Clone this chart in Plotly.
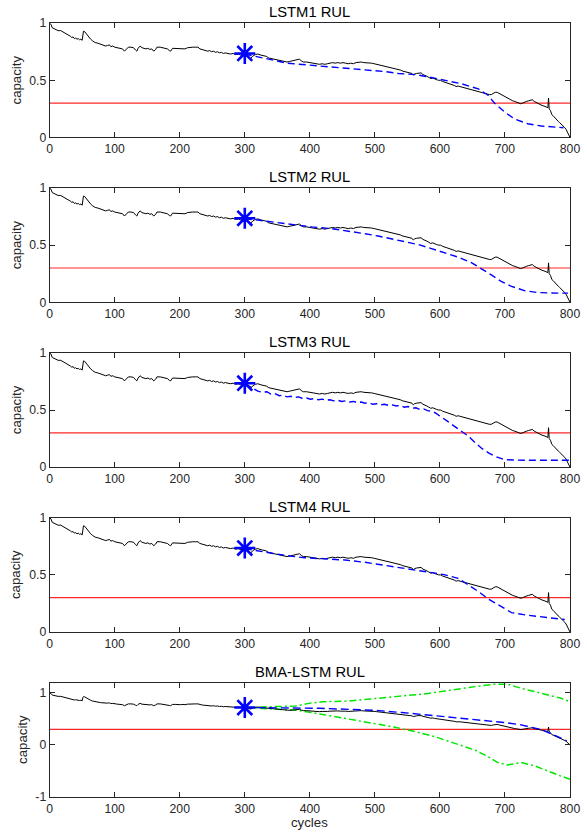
import plotly.graph_objects as go

# The photo of the page is scaled to the 587x833 picture (about 587/600 across, 833/849 down) and the
# html body keeps its default 8px margin, so reference pixel positions are converted to figure pixels.
OFF = 8
SX, SY = 587 / 600, 833 / 849
W, H = 592, 837


def fx(px):
    return px / SX - OFF


def fy(py):
    return py / SY - OFF


# ---------------- data ----------------
cycles = [0, 2, 4, 7, 10, 13, 17, 20, 23, 26, 29, 32, 34, 36, 38, 40, 42, 44, 46, 48, 50, 51, 52, 54, 57, 60,
          63, 66, 70, 74, 78, 82, 86, 89, 92, 94, 97, 100, 104, 108, 112, 115, 118, 121, 125, 129, 132, 134,
          136, 139, 142, 145, 148, 151, 154, 157, 160, 163, 165, 170, 174, 178, 181, 184, 186, 189, 193, 197,
          201, 205, 208, 212, 216, 220, 224, 228, 231, 234, 237, 240, 243, 246, 249, 252, 255, 258, 261, 264,
          267, 270, 274, 278, 282, 286, 290, 294, 298, 302, 306, 309, 312, 316, 320, 325, 329, 333, 337, 341,
          345, 349, 353, 357, 361, 365, 369, 373, 377, 381, 384, 387, 390, 395, 399, 403, 407, 411, 415, 419,
          423, 427, 431, 435, 439, 443, 447, 451, 455, 459, 463, 467, 471, 475, 479, 483, 487, 491, 495, 499,
          503, 507, 511, 515, 519, 523, 527, 531, 535, 539, 543, 547, 551, 554, 557, 559, 561, 564, 568, 571,
          574, 577, 580, 583, 586, 589, 592, 595, 598, 601, 604, 607, 610, 613, 616, 619, 622, 625, 628, 631,
          634, 637, 640, 643, 646, 649, 652, 655, 658, 661, 664, 667, 670, 673, 676, 679, 682, 685, 688, 691,
          694, 697, 700, 703, 706, 709, 712, 715, 718, 721, 724, 727, 730, 733, 736, 739, 742, 745, 748, 751,
          754, 757, 760, 763, 766, 767, 768, 770, 772, 774, 776, 778, 780, 782, 784, 786, 788, 790, 792, 794,
          796, 798, 800]
capacity = [1.00, 0.99, 0.96, 0.95, 0.945, 0.935, 0.935, 0.925, 0.92, 0.905, 0.895, 0.885, 0.875, 0.88, 0.865,
            0.87, 0.86, 0.865, 0.855, 0.86, 0.85, 0.91, 0.93, 0.925, 0.90, 0.88, 0.86, 0.845, 0.83, 0.825, 0.815,
            0.81, 0.80, 0.805, 0.81, 0.795, 0.80, 0.79, 0.785, 0.78, 0.775, 0.755, 0.775, 0.79, 0.79, 0.785,
            0.765, 0.755, 0.78, 0.80, 0.785, 0.78, 0.775, 0.78, 0.77, 0.775, 0.755, 0.77, 0.79, 0.79, 0.785,
            0.78, 0.775, 0.76, 0.755, 0.78, 0.78, 0.775, 0.775, 0.78, 0.775, 0.785, 0.79, 0.79, 0.79, 0.79,
            0.775, 0.77, 0.765, 0.76, 0.755, 0.76, 0.75, 0.755, 0.745, 0.75, 0.74, 0.745, 0.735, 0.74, 0.735,
            0.73, 0.735, 0.725, 0.73, 0.72, 0.725, 0.715, 0.705, 0.69, 0.71, 0.725, 0.73, 0.72, 0.715, 0.71,
            0.695, 0.69, 0.69, 0.68, 0.68, 0.67, 0.665, 0.66, 0.665, 0.67, 0.675, 0.685, 0.685, 0.67, 0.66,
            0.66, 0.655, 0.65, 0.65, 0.645, 0.64, 0.645, 0.64, 0.645, 0.65, 0.655, 0.65, 0.655, 0.65, 0.655,
            0.65, 0.645, 0.65, 0.645, 0.655, 0.66, 0.66, 0.655, 0.655, 0.65, 0.65, 0.645, 0.64, 0.635, 0.63,
            0.625, 0.62, 0.615, 0.61, 0.60, 0.595, 0.59, 0.58, 0.575, 0.57, 0.565, 0.56, 0.545, 0.555, 0.56,
            0.565, 0.565, 0.55, 0.545, 0.535, 0.525, 0.515, 0.52, 0.51, 0.505, 0.50, 0.50, 0.49, 0.485, 0.48,
            0.47, 0.465, 0.46, 0.455, 0.445, 0.45, 0.445, 0.44, 0.435, 0.43, 0.43, 0.425, 0.42, 0.415, 0.41,
            0.405, 0.40, 0.395, 0.39, 0.385, 0.38, 0.375, 0.375, 0.385, 0.395, 0.395, 0.385, 0.375, 0.365,
            0.36, 0.35, 0.34, 0.33, 0.32, 0.315, 0.31, 0.30, 0.295, 0.30, 0.31, 0.315, 0.32, 0.325, 0.33,
            0.315, 0.305, 0.295, 0.29, 0.28, 0.275, 0.265, 0.26, 0.345, 0.25, 0.235, 0.20, 0.19, 0.175, 0.16,
            0.155, 0.14, 0.13, 0.12, 0.11, 0.10, 0.085, 0.07, 0.05, 0.03, 0.00]

start_cycle = 300
start_capacity = [0.735, 0.735, 0.735, 0.735, 0.72]
threshold = 0.3

lstm1_x = [300, 330, 365, 395, 426, 457, 487, 518, 536, 562, 582, 608, 633, 659, 674, 684, 699, 715, 735, 756, 776, 790]
lstm1_y = [0.73, 0.69, 0.65, 0.635, 0.62, 0.605, 0.59, 0.575, 0.56, 0.55, 0.53, 0.50, 0.47, 0.425, 0.37, 0.30,
           0.225, 0.16, 0.12, 0.10, 0.09, 0.085]

lstm2_x = [300, 320, 346, 372, 403, 433, 464, 485, 505, 526, 546, 567, 587, 608, 628, 649, 664, 679, 695, 710, 731,
           751, 782, 797]
lstm2_y = [0.73, 0.72, 0.70, 0.68, 0.66, 0.645, 0.62, 0.60, 0.58, 0.555, 0.53, 0.505, 0.47, 0.43, 0.395, 0.345,
           0.295, 0.24, 0.18, 0.14, 0.10, 0.085, 0.08, 0.08]

lstm3_x = [300, 313, 320, 328, 334, 340, 346, 353, 359, 365, 371, 377, 383, 389, 395, 401, 407, 413, 419, 425,
           431, 437, 443, 449, 455, 461, 467, 473, 479, 485, 491, 497, 503, 509, 515, 521, 527, 533, 539, 545,
           551, 557, 563, 569, 575, 581, 587, 593, 600, 612, 623, 634, 644, 654, 664, 676, 687, 700, 730, 800]
lstm3_y = [0.73, 0.69, 0.665, 0.655, 0.66, 0.64, 0.645, 0.625, 0.63, 0.615, 0.62, 0.61, 0.615, 0.60, 0.605, 0.595,
           0.60, 0.59, 0.595, 0.585, 0.59, 0.58, 0.585, 0.575, 0.58, 0.57, 0.575, 0.565, 0.57, 0.56, 0.565, 0.55,
           0.555, 0.545, 0.55, 0.54, 0.545, 0.535, 0.54, 0.525, 0.53, 0.515, 0.52, 0.505, 0.51, 0.495, 0.49,
           0.475, 0.45, 0.40, 0.355, 0.31, 0.27, 0.215, 0.165, 0.12, 0.09, 0.065, 0.06, 0.06]

lstm4_x = [300, 331, 362, 392, 423, 454, 485, 515, 541, 567, 587, 608, 628, 644, 659, 674, 690, 710, 731, 756, 782, 792]
lstm4_y = [0.73, 0.70, 0.67, 0.65, 0.64, 0.63, 0.61, 0.585, 0.56, 0.54, 0.52, 0.50, 0.47, 0.41, 0.355, 0.29, 0.24,
           0.17, 0.15, 0.13, 0.115, 0.11]

bma_x = [300, 340, 378, 414, 460, 500, 541, 582, 620, 650, 672, 700, 723, 740, 755, 770, 785, 795]
bma_y = [0.72, 0.715, 0.71, 0.705, 0.685, 0.665, 0.625, 0.575, 0.54, 0.50, 0.465, 0.43, 0.39, 0.34, 0.30, 0.22,
         0.14, 0.08]

upper_x = [300, 340, 378, 398, 419, 460, 480, 505, 531, 557, 582, 608, 633, 659, 684, 704, 725, 745, 766, 786, 800]
upper_y = [0.72, 0.74, 0.75, 0.80, 0.83, 0.845, 0.865, 0.90, 0.93, 0.96, 0.99, 1.04, 1.09, 1.13, 1.17, 1.17, 1.09,
           1.025, 0.96, 0.90, 0.83]

lower_x = [300, 340, 378, 409, 439, 470, 500, 531, 562, 592, 623, 654, 674, 689, 704, 725, 745, 766, 786, 800]
lower_y = [0.72, 0.70, 0.67, 0.61, 0.545, 0.48, 0.415, 0.34, 0.255, 0.16, 0.03, -0.10, -0.225, -0.34, -0.385,
           -0.34, -0.40, -0.51, -0.60, -0.66]

titles = ["LSTM1 RUL", "LSTM2 RUL", "LSTM3 RUL", "LSTM4 RUL", "BMA-LSTM RUL"]
preds = [(lstm1_x, lstm1_y), (lstm2_x, lstm2_y), (lstm3_x, lstm3_y), (lstm4_x, lstm4_y), (bma_x, bma_y)]
x_ticks = [0, 100, 200, 300, 400, 500, 600, 700, 800]
y_ticks_top = [0, 0.5, 1]
y_ticks_bma = [-1, 0, 1]

# ---------------- layout geometry (reference picture pixels -> figure pixels) ----------------
ax_left, ax_right = fx(54.5), fx(575.0)
ref_tops = (24, 188.5, 353, 517.5, 682)
ax_tops = [fy(t) for t in ref_tops]
ax_bots = [fy(t + 114) for t in ref_tops]
ylab_x = [fx(21)] * 4 + [fx(28)]
cycles_y = min(fy(822), H - 8)
K = 1 / SY  # font scale

FONT = "Liberation Sans, Arial, Helvetica, sans-serif"
AXC = "#262626"
BLUE = "rgb(0,0,255)"
TICKF = dict(size=12 * K, color=AXC, family=FONT)

fig = go.Figure()
layout = dict(width=W, height=H, margin=dict(l=0, r=0, t=0, b=0),
              paper_bgcolor="white", plot_bgcolor="white", showlegend=False,
              font=dict(family=FONT, size=12, color=AXC))
annotations = []

for i in range(5):
    k = "" if i == 0 else str(i + 1)
    xa, ya = "x" + k, "y" + k
    top, bot = ax_tops[i], ax_bots[i]
    ydom = [1 - bot / H, 1 - top / H]
    is_bma = i == 4
    yt = y_ticks_bma if is_bma else y_ticks_top
    layout["xaxis" + k] = dict(domain=[ax_left / W, ax_right / W], range=[0, 800], anchor=ya,
                               tickmode="array", tickvals=x_ticks, ticks="inside", ticklen=5,
                               tickcolor=AXC, showline=True, linecolor=AXC, linewidth=1, mirror="ticks",
                               showgrid=False, zeroline=False, ticklabeloverflow="allow", tickfont=TICKF)
    layout["yaxis" + k] = dict(domain=ydom, range=[-1, 1.2] if is_bma else [0, 1], anchor=xa,
                               tickmode="array", tickvals=yt, ticktext=[str(v) for v in yt],
                               ticks="inside", ticklen=5, tickcolor=AXC, showline=True, linecolor=AXC,
                               linewidth=1, mirror="ticks", showgrid=False, zeroline=False, tickfont=TICKF)
    fig.add_trace(go.Scatter(x=[0, 800], y=[threshold, threshold], mode="lines",
                             line=dict(color="rgb(255,40,40)", width=1.2), xaxis=xa, yaxis=ya))
    if is_bma:
        for bx, by in ((upper_x, upper_y), (lower_x, lower_y)):
            fig.add_trace(go.Scatter(x=bx, y=by, mode="lines",
                                     line=dict(color="rgb(0,230,0)", width=1.5, dash="7px,3px,2px,3px"),
                                     xaxis=xa, yaxis=ya))
    fig.add_trace(go.Scatter(x=cycles, y=capacity, mode="lines",
                             line=dict(color="black", width=1), xaxis=xa, yaxis=ya))
    px, py = preds[i]
    fig.add_trace(go.Scatter(x=px, y=py, mode="lines",
                             line=dict(color=BLUE, width=1.4, dash="8px,4px" if is_bma else "7px,4px"),
                             xaxis=xa, yaxis=ya))
    fig.add_trace(go.Scatter(x=[start_cycle], y=[start_capacity[i]], mode="markers",
                             marker=dict(symbol="asterisk-open", size=17.5, color=BLUE,
                                         line=dict(color=BLUE, width=2.6)),
                             xaxis=xa, yaxis=ya))
    annotations.append(dict(text=titles[i], xref="paper", yref="paper",
                            x=(ax_left + ax_right) / 2 / W, y=1 - top / H, xanchor="center",
                            yanchor="bottom", yshift=1, showarrow=False,
                            font=dict(size=14.5 * K, color="black", family=FONT)))
    annotations.append(dict(text="capacity", xref="paper", yref="paper",
                            x=ylab_x[i] / W, y=1 - (top + bot) / 2 / H, xanchor="center",
                            yanchor="middle", textangle=-90, showarrow=False,
                            font=dict(size=13 * K, color=AXC, family=FONT)))

annotations.append(dict(text="cycles", xref="paper", yref="paper", x=(ax_left + ax_right) / 2 / W,
                        y=1 - cycles_y / H, xanchor="center", yanchor="middle", showarrow=False,
                        font=dict(size=13 * K, color=AXC, family=FONT)))
layout["annotations"] = annotations
fig.update_layout(**layout)
fig.write_html("out.html")
